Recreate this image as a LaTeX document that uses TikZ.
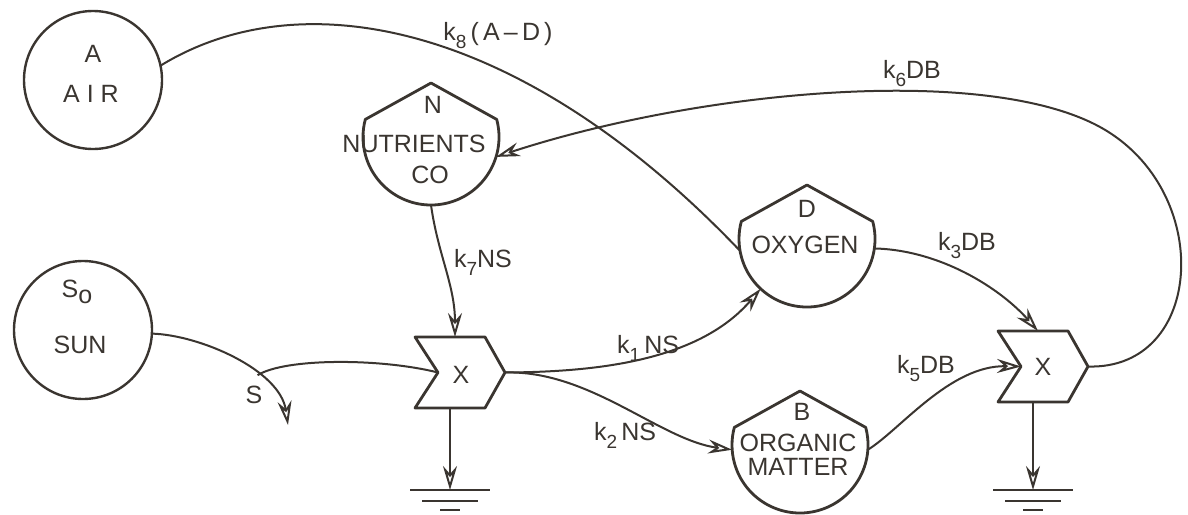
\documentclass[tikz,border=0pt]{standalone}
\usepackage{fontspec}
\setmainfont{Liberation Sans}
\usetikzlibrary{arrows.meta,calc}
\definecolor{ink}{RGB}{58,53,48}
\newcommand{\ksub}[1]{k\raisebox{-4pt}{\fontsize{9.5}{10}\selectfont #1}}
\begin{document}
\begin{tikzpicture}[x=0.5pt,y=-0.5pt,
  every node/.style={inner sep=0pt, outer sep=0pt, text=ink, font=\fontsize{12.5}{14}\selectfont},
  lbl/.style={anchor=base},
  tank/.style={circle, draw=ink, line width=1.2pt, minimum size=69pt},
  anchorcirc/.style={circle, minimum size=68pt},
  gatebox/.style={rectangle, minimum width=35pt, minimum height=35.5pt},
  shapeline/.style={draw=ink, line width=1.4pt, line join=round},
  flow/.style={draw=ink, line width=1pt, -{Stealth[open, length=12pt, width=7pt, inset=4pt]}},
  plain/.style={draw=ink, line width=1pt},
]
\useasboundingbox (0,0) rectangle (1188,514);

% storages / sources
\node[tank] (A) at (93,80) {};
\node[tank] (Sun) at (83,330) {};
\node[anchorcirc] (N) at (431,137) {};
\node[anchorcirc] (O) at (807,239) {};
\node[anchorcirc] (B) at (800,445) {};
\node[gatebox] (X1) at (450,372.5) {};
\node[gatebox] (X2) at (1033,366.5) {};

\foreach \n in {N,O,B}{
  \draw[shapeline] (\n.15) arc[start angle=15, end angle=-195, radius=34pt]
     -- ($(\n.center)+(0,27pt)$) -- cycle;
}
\foreach \g in {X1,X2}{
  \draw[shapeline] (\g.north west) -- (\g.north east) -- ($(\g.east)+(10pt,0)$)
     -- (\g.south east) -- (\g.south west) -- ($(\g.west)+(11.5pt,0)$) -- cycle;
}
\coordinate (X1in) at ($(X1.west)+(11.5pt,0)$);
\coordinate (X1out) at ($(X1.east)+(10pt,0)$);
\coordinate (X2in) at ($(X2.west)+(11.5pt,0)$);
\coordinate (X2out) at ($(X2.east)+(10pt,0)$);
\coordinate (Send) at (288,425);
\coordinate (G1) at ($(X1.south)+(0,82)$);
\coordinate (G2) at ($(X2.south)+(0,88)$);

% connectors
\draw[plain] (A.12) .. controls (300,-20) and (520,20) .. (O.190);
\draw[flow] (X2out) .. controls (1205,370) and (1215,190) .. (1100,127)
   .. controls (985,64) and (700,90) .. (N.-17);
\draw[flow] (N.south) .. controls (438,255) and (455,285) .. ($(X1.north)+(2.5pt,0)$);
\draw[flow] (Sun.-3) .. controls (200,335) and (280,370) .. (Send) coordinate[pos=0.65] (Sbr);
\draw[plain] (Sbr) .. controls (285,358) and (380,358) .. (X1in);
\draw[flow] (X1out) .. controls (600,372) and (700,360) .. (O.227);
\draw[flow] (X1out) .. controls (590,370) and (660,440) .. (B.184);
\draw[flow] (O.-8) .. controls (940,250) and (1000,288) .. ($(X2.north)+(2.5pt,0)$);
\draw[flow] (B.-4) .. controls (900,430) and (950,365) .. (X2in);
\draw[flow] (X1.south) -- (G1);
\draw[flow] (X2.south) -- (G2);
\foreach \g in {G1,G2}{
  \draw[plain] ($(\g)+(-40,0)$) -- ($(\g)+(40,0)$);
  \draw[plain] ($(\g)+(-28,11)$) -- ($(\g)+(28,11)$);
  \draw[plain] ($(\g)+(-10,20)$) -- ($(\g)+(10,20)$);
}

% texts
\node[lbl] (tA) at (93,62) {A};
\node[lbl] (tAIR) at (91,102) {A I R};
\node[lbl] (tSo) at (77,297) {S\raisebox{-3pt}{o}};
\node[lbl] (tSUN) at (80,353) {SUN};
\node[lbl] (tN) at (433,113) {N};
\node[lbl] (tNUT) at (414,152) {NUTRIENTS};
\node[lbl] (tCO) at (430,183) {CO};
\node[lbl] (tD) at (807,217) {D};
\node[lbl] (tOXY) at (805,253) {OXYGEN};
\node[lbl] (tB) at (802,420) {B};
\node[lbl] (tORG) at (798,451) {ORGANIC};
\node[lbl] (tMAT) at (798,475) {MATTER};
\node[lbl] (tX1) at (461,383) {X};
\node[lbl] (tX2) at (1043,375) {X};
\node[lbl] (l8) at (498,40) {\ksub{8}\,(\,A\,–\,D\,)};
\node[lbl] (l6) at (912,78) {\ksub{6}DB};
\node[lbl] (l7) at (483,267) {\ksub{7}NS};
\node[lbl] (l3) at (967,250) {\ksub{3}DB};
\node[lbl] (l1) at (648,353) {\ksub{1}\,NS};
\node[lbl] (l2) at (625,440) {\ksub{2}\,NS};
\node[lbl] (l5) at (926,373) {\ksub{5}DB};
\node[lbl] (lS) at (254,403) {S};
\end{tikzpicture}
\end{document}
